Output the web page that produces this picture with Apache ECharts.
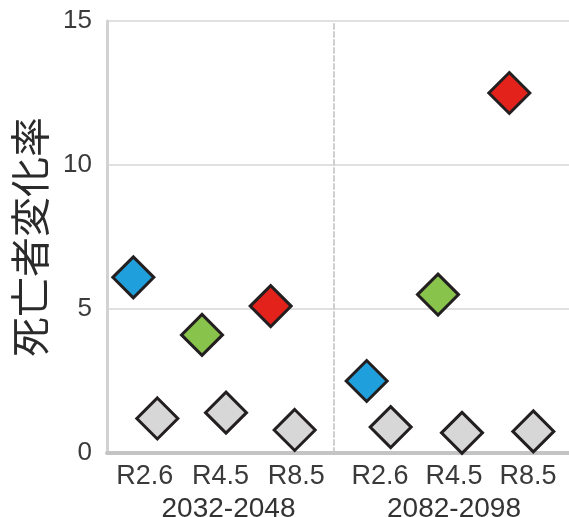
<!DOCTYPE html>
<html>
<head>
<meta charset="utf-8">
<script src="https://cdn.jsdelivr.net/npm/echarts@6/dist/echarts.min.js"></script>
<style>
  html, body { margin: 0; padding: 0; background: #fff; }
  #chart { width: 569px; height: 517px; }
</style>
</head>
<body>
<div id="chart"></div>
<script>
// data
const scenarios = ['R2.6', 'R4.5', 'R8.5']
const periods = ['2032-2048', '2082-2098']
const colorEarly = [6.1, 4.1, 5.1]
const grayEarly = [1.2, 1.4, 0.8]
const colorLate = [2.5, 5.5, 12.5]
const grayLate = [0.9, 0.7, 0.75]
const scenarioColors = ['#1fa0dc', '#88c34b', '#e3221c']
const yTicks = { min: 0, max: 15, step: 5 }

const textFont = 'Liberation Sans'
const plotTop = 21
const plotBottom = 64

var myChart = echarts.init(document.getElementById('chart'))

const box = (o) => Object.assign({ top: plotTop, bottom: plotBottom, outerBoundsMode: 'none', containLabel: false }, o)
const hiddenY = (gridIndex) => ({
  type: 'value', gridIndex: gridIndex, min: yTicks.min, max: yTicks.max, show: false
})
const hiddenX = (gridIndex) => ({
  type: 'category', gridIndex: gridIndex, data: scenarios, show: false
})
const labelX = (gridIndex, name, pad) => ({
  type: 'category',
  gridIndex: gridIndex,
  data: scenarios,
  axisLine: { show: false },
  axisTick: { show: false },
  axisLabel: {
    interval: 0, hideOverlap: false, margin: 10,
    fontSize: 27, lineHeight: 27, color: '#3a3a3a', fontFamily: textFont
  },
  name: name,
  nameLocation: 'middle',
  nameGap: 36,
  nameTextStyle: { fontSize: 28, lineHeight: 28, color: '#333', fontFamily: textFont, padding: pad }
})
const diamond = (data, xi, colorFn) => ({
  type: 'scatter',
  xAxisIndex: xi,
  yAxisIndex: xi,
  symbol: 'diamond',
  symbolSize: 41,
  symbolOffset: [colorFn ? -12 : 12, 0],
  data: data,
  z: 5,
  itemStyle: {
    color: colorFn || '#d7d7d7',
    borderColor: '#231f20',
    borderWidth: 3,
    opacity: 1
  }
})
const byScenario = (p) => scenarioColors[p.dataIndex]

myChart.setOption({
  animation: false,
  grid: [
    box({ left: 107, right: 0 }),   // frame
    box({ left: 107, width: 227 }), // labels left
    box({ left: 343, right: 4 }),   // labels right
    box({ left: 334, right: 0 }),   // divider
    box({ left: 111, width: 206 }), // points left
    box({ left: 343, right: 12 })   // points right
  ],
  xAxis: [
    {
      type: 'value', gridIndex: 0, min: 0, max: 1,
      axisLine: { show: true, lineStyle: { color: '#c4c4c4', width: 4 } },
      axisTick: { show: false }, axisLabel: { show: false }, splitLine: { show: false }
    },
    labelX(1, periods[0], [0, 0, 0, 16]),
    labelX(2, periods[1], 0),
    { type: 'value', gridIndex: 3, show: false },
    hiddenX(4),
    hiddenX(5)
  ],
  yAxis: [
    {
      type: 'value',
      gridIndex: 0,
      min: yTicks.min,
      max: yTicks.max,
      interval: yTicks.step,
      axisLine: { show: true, lineStyle: { color: '#d2d2d2', width: 3 } },
      axisTick: { show: false },
      axisLabel: { margin: 15, fontSize: 26, color: '#3a3a3a', fontFamily: textFont },
      splitLine: { show: true, lineStyle: { color: '#e0e0e0', width: 2 } },
      name: '死亡者変化率',
      nameLocation: 'middle',
      nameRotate: 90,
      nameGap: 57,
      nameTextStyle: { fontSize: 40, color: '#2a2a2a', fontFamily: 'Noto Sans CJK JP' }
    },
    hiddenY(1),
    hiddenY(2),
    {
      type: 'value', gridIndex: 3, min: yTicks.min, max: yTicks.max,
      axisLine: { show: true, lineStyle: { color: '#cfcfcf', width: 2, type: [5, 3] } },
      axisTick: { show: false }, axisLabel: { show: false }, splitLine: { show: false }
    },
    hiddenY(4),
    hiddenY(5)
  ],
  series: [
    diamond(grayEarly, 4),
    diamond(colorEarly, 4, byScenario),
    diamond(grayLate, 5),
    diamond(colorLate, 5, byScenario)
  ]
})
</script>
</body>
</html>
